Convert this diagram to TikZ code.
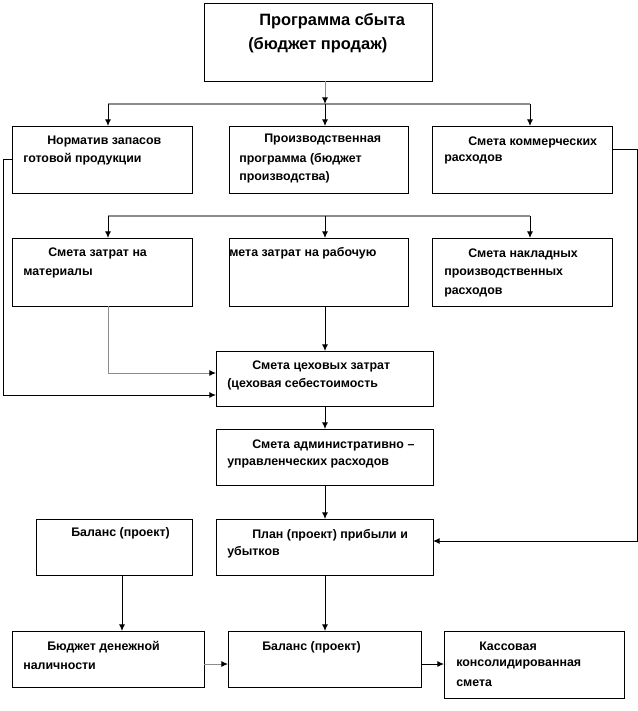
\documentclass[tikz,border=0pt]{standalone}
\usepackage{fontspec}
\setmainfont{Liberation Sans}
\usetikzlibrary{arrows.meta,calc}
\begin{document}
\begin{tikzpicture}[x=0.75pt,y=-0.75pt,
  box/.style={draw, line width=0.75pt, inner sep=0pt, outer sep=0pt, anchor=north west},
  txt/.style={anchor=west, inner sep=0pt, font=\bfseries\fontsize{9.3}{10}\selectfont},
  ttl/.style={anchor=west, inner sep=0pt, font=\bfseries\fontsize{12.3}{14}\selectfont},
  arr/.style={-{Latex[length=5pt,width=4.5pt,color=black]}, line width=0.75pt},
  bus/.style={line width=1pt, draw=gray!90}]
\useasboundingbox (0,0) rectangle (638,711);
\newcommand{\bx}[5]{\node[box, minimum width={(#4-#2)*0.75pt}, minimum height={(#5-#3)*0.75pt}] (#1) at (#2,#3) {};}
% boxes
\bx{top}{204}{3}{432}{81}
\bx{nA}{12}{126}{192}{193}
\bx{nB}{229}{126}{408}{193}
\bx{nC}{432}{126}{612}{193}
\bx{mA}{12}{238}{192}{306}
\bx{mB}{229}{238}{408}{306}
\bx{mC}{432}{238}{612}{306}
\bx{ceh}{216}{351}{433}{406}
\bx{adm}{216}{429}{433}{485}
\bx{plan}{216}{519}{433}{575}
\bx{bal1}{36}{519}{192}{575}
\bx{bud}{12}{631}{204}{687}
\bx{bal2}{228}{631}{421}{687}
\bx{kas}{444}{631}{624}{698}
% texts
\node[ttl] (t1) at (259,21) {Программа сбыта};
\node[ttl] (t2) at (248,45) {(бюджет продаж)};
\node[txt] (a1) at (47,142) {Норматив запасов};
\node[txt] (a2) at (23,159) {готовой продукции};
\node[txt] (b1t) at (264,140) {Производственная};
\node[txt] (b2t) at (239,159) {программа (бюджет};
\node[txt] (b3t) at (239,177) {производства)};
\node[txt] (c1) at (468,142) {Смета коммерческих};
\node[txt] (c2) at (444,159) {расходов};
\node[txt] (d1) at (48,253) {Смета затрат на};
\node[txt] (d2) at (23,273) {материалы};
\node[txt] (e1) at (229,253) {мета затрат на рабочую};
\node[txt] (f1) at (468,254) {Смета накладных};
\node[txt] (f2) at (444,273) {производственных};
\node[txt] (f3) at (444,292) {расходов};
\node[txt] (g1) at (252,366) {Смета цеховых затрат};
\node[txt] (g2) at (227,384) {(цеховая себестоимость};
\node[txt] (h1) at (252,445) {Смета административно –};
\node[txt] (h2) at (227,463) {управленческих расходов};
\node[txt] (p1) at (252,535) {План (проект) прибыли и};
\node[txt] (p2) at (227,552) {убытков};
\node[txt] (q1) at (71,533) {Баланс (проект)};
\node[txt] (r1) at (47,647) {Бюджет денежной};
\node[txt] (r2) at (23,666) {наличности};
\node[txt] (s1) at (262,647) {Баланс (проект)};
\node[txt] (k1) at (479,646) {Кассовая};
\node[txt] (k2) at (456,664) {консолидированная};
\node[txt] (k3) at (456,683) {смета};
% helper coordinates
\coordinate (bus1L) at (108,104);
\coordinate (bus1M) at (325,104);
\coordinate (bus1R) at (530,104);
\coordinate (bus2L) at (108,216);
\coordinate (bus2M) at (325,216);
\coordinate (bus2R) at (530,216);
\coordinate (L) at (3,0);
\coordinate (R) at (637,0);
\coordinate (v) at (122,0);
\coordinate (y664) at (0,664);
% connectors
\draw[bus] (bus1L) -- (bus1R);
\draw[arr, draw=gray!90] (top.south -| bus1M) -- (bus1M);
\draw[arr] (bus1L) -- (bus1L |- nA.north);
\draw[arr] (bus1M) -- (bus1M |- nB.north);
\draw[arr] (bus1R) -- (bus1R |- nC.north);
\draw[bus] (bus2L) -- (bus2R);
\draw[arr] (bus2L) -- (bus2L |- mA.north);
\draw[arr] (bus2M) -- (bus2M |- mB.north);
\draw[arr] (bus2R) -- (bus2R |- mC.north);
\draw[arr, draw=gray!90] (mA.south -| bus2L) |- ($(ceh.west)+(0,-5.5)$);
\draw[arr] (mB.south -| bus2M) -- (bus2M |- ceh.north);
\draw[arr] (nA.west) -- (nA.west -| L) |- ($(ceh.west)+(0,16.5)$);
\draw[arr] (ceh.south -| bus2M) -- (bus2M |- adm.north);
\draw[arr] (adm.south -| bus2M) -- (bus2M |- plan.north);
\draw[arr] ($(nC.east)+(0,-10.5)$) coordinate (cR) -- (cR -| R) |- ($(plan.east)+(0,-6)$);
\draw[arr] (plan.south -| bus2M) -- (bus2M |- bal2.north);
\draw[arr] (bal1.south -| v) -- (v |- bud.north);
\draw[arr, draw=gray!90] (bud.east |- y664) -- (bal2.west |- y664);
\draw[arr] (bal2.east |- y664) -- (kas.west |- y664);
\end{tikzpicture}
\end{document}
